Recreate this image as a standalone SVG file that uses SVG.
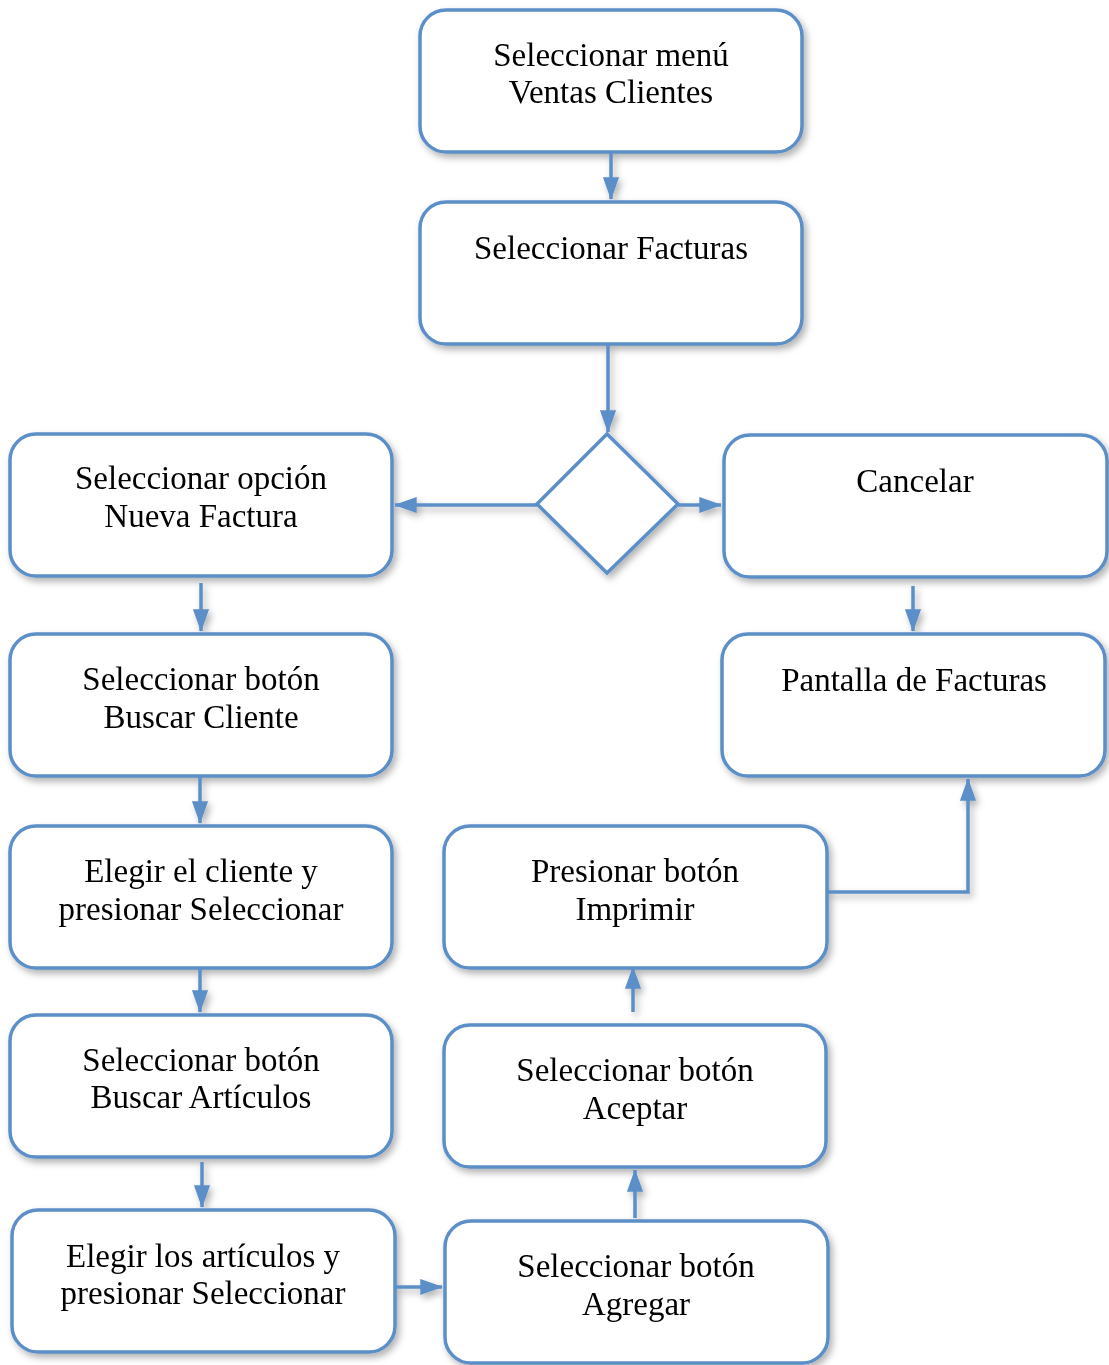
<svg xmlns="http://www.w3.org/2000/svg" width="1109" height="1365" viewBox="0 0 1109 1365">
<defs>
<filter id="sh" x="-10%" y="-10%" width="130%" height="130%">
<feDropShadow dx="3" dy="4" stdDeviation="3.5" flood-color="#000" flood-opacity="0.3"/>
</filter>
<marker id="ah" markerWidth="7" markerHeight="5" refX="6.2" refY="2.3" orient="auto" markerUnits="strokeWidth">
<path d="M0,0 L6.5,2.3 L0,4.6 Z" fill="#5b8ec8"/>
</marker>
<style>
.box{fill:#fff;stroke:#5b8ec8;stroke-width:3.5}
.t{font-family:"Liberation Serif","DejaVu Serif",serif;font-size:33px;fill:#000;text-anchor:middle}
.c{fill:none;stroke:#5b8ec8;stroke-width:3.5;marker-end:url(#ah)}
</style>
</defs>
<g filter="url(#sh)">
<g id="connectors">
<path class="c" d="M611,152 L611,199"/>
<path class="c" d="M608,340 L608,432"/>
<path class="c" d="M537,505 L395,505"/>
<path class="c" d="M678,505 L721,505"/>
<path class="c" d="M201,583 L201,631"/>
<path class="c" d="M200,776 L200,823"/>
<path class="c" d="M200,965 L200,1012"/>
<path class="c" d="M202,1162 L202,1207"/>
<path class="c" d="M395,1287 L442,1287"/>
<path class="c" d="M635,1218 L635,1170"/>
<path class="c" d="M633,1012 L633,967"/>
<path class="c" d="M827,892 L968,892 L968,779"/>
<path class="c" d="M913,586 L913,631"/>
</g>
<g id="n1"><rect class="box" x="420" y="10" width="382" height="142" rx="26"/>
<text class="t" x="611" y="66">Seleccionar menú</text><text class="t" x="611" y="103">Ventas Clientes</text></g>
<g id="n2"><rect class="box" x="420" y="202" width="382" height="142" rx="26"/>
<text class="t" x="611" y="259">Seleccionar Facturas</text></g>
<g id="decision"><path class="box" d="M607,434 L678,504 L607,573 L537,504 Z"/></g>
<g id="n3"><rect class="box" x="10" y="434" width="382" height="142" rx="26"/>
<text class="t" x="201" y="489">Seleccionar opción</text><text class="t" x="201" y="527">Nueva Factura</text></g>
<g id="n4"><rect class="box" x="10" y="634" width="382" height="142" rx="26"/>
<text class="t" x="201" y="690">Seleccionar botón</text><text class="t" x="201" y="728">Buscar Cliente</text></g>
<g id="n5"><rect class="box" x="10" y="826" width="382" height="142" rx="26"/>
<text class="t" x="201" y="882">Elegir el cliente y</text><text class="t" x="201" y="920">presionar Seleccionar</text></g>
<g id="n6"><rect class="box" x="10" y="1015" width="382" height="142" rx="26"/>
<text class="t" x="201" y="1071">Seleccionar botón</text><text class="t" x="201" y="1108">Buscar Artículos</text></g>
<g id="n7"><rect class="box" x="12" y="1210" width="383" height="142" rx="26"/>
<text class="t" x="203" y="1267">Elegir los artículos y</text><text class="t" x="203" y="1304">presionar Seleccionar</text></g>
<g id="n8"><rect class="box" x="724" y="435" width="383" height="142" rx="26"/>
<text class="t" x="915" y="492">Cancelar</text></g>
<g id="n9"><rect class="box" x="722" y="634" width="383" height="142" rx="26"/>
<text class="t" x="914" y="691">Pantalla de Facturas</text></g>
<g id="n10"><rect class="box" x="444" y="826" width="383" height="142" rx="26"/>
<text class="t" x="635" y="882">Presionar botón</text><text class="t" x="635" y="920">Imprimir</text></g>
<g id="n11"><rect class="box" x="444" y="1025" width="382" height="142" rx="26"/>
<text class="t" x="635" y="1081">Seleccionar botón</text><text class="t" x="635" y="1119">Aceptar</text></g>
<g id="n12"><rect class="box" x="445" y="1221" width="383" height="142" rx="26"/>
<text class="t" x="636" y="1277">Seleccionar botón</text><text class="t" x="636" y="1315">Agregar</text></g>
</g>
</svg>
